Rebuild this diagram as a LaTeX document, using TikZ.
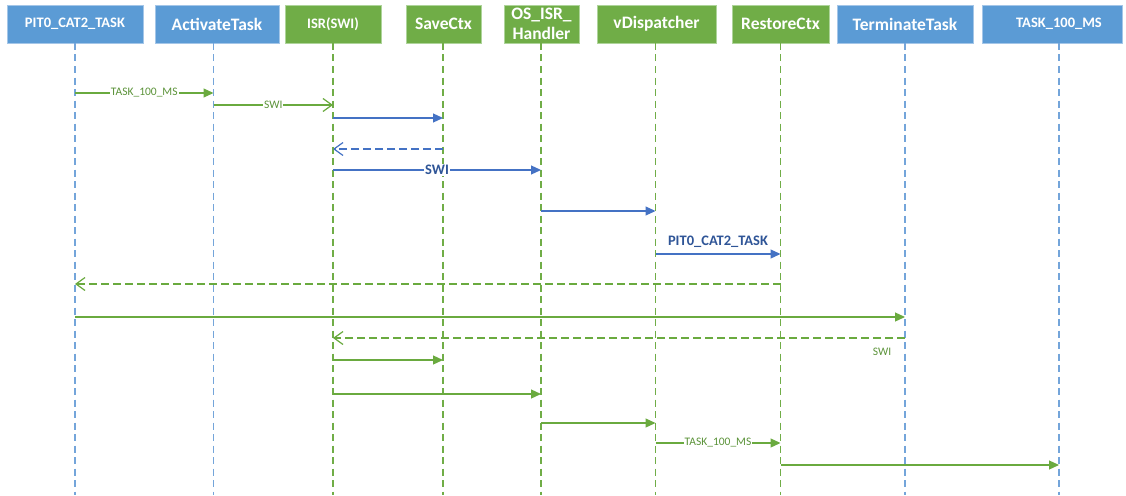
\documentclass[tikz,border=0pt]{standalone}
\usepackage{fontspec}
\setmainfont{Carlito}
\usetikzlibrary{arrows.meta}
\definecolor{boxblue}{HTML}{5B9BD5}
\definecolor{boxblueedge}{HTML}{A4C6E8}
\definecolor{boxgreen}{HTML}{70AD47}
\definecolor{boxgreenedge}{HTML}{AED49A}
\definecolor{lineblue}{HTML}{74A5DA}
\definecolor{linegreen}{HTML}{70AD47}
\definecolor{msgblue}{HTML}{4472C4}
\definecolor{msggreen}{HTML}{6AAA3F}
\definecolor{txtblue}{HTML}{2F5597}
\definecolor{txtgreen}{HTML}{5B9339}

\begin{document}
\begin{tikzpicture}[x=1pt,y=-1pt,
  hdr/.style={rectangle, minimum height=38pt, inner sep=0pt, text=white,
    font=\bfseries\fontsize{17.5}{20}\selectfont, line width=0.8pt, align=center},
  hdrblue/.style={hdr, fill=boxblue, draw=boxblueedge},
  hdrgreen/.style={hdr, fill=boxgreen, draw=boxgreenedge},
  smallhdr/.style={font=\bfseries\fontsize{14.5}{17}\selectfont},
  lifeblue/.style={draw=lineblue, line width=1.2pt, dash pattern=on 7pt off 4.5pt},
  lifegreen/.style={draw=linegreen, line width=1.2pt, dash pattern=on 7pt off 4.5pt},
  msg/.style={line width=1.2pt},
  bl/.style={draw=msgblue},
  gr/.style={draw=msggreen},
  sync/.style={msg, -{Triangle[length=10pt,width=9pt]}},
  openmsg/.style={msg, -{Straight Barb[length=9pt,width=13pt]}},
  retmsg/.style={openmsg, dash pattern=on 8pt off 4pt},
  lbl/.style={fill=white, inner sep=1pt, text=txtgreen, font=\fontsize{11.5}{13}\selectfont},
  lblb/.style={fill=white, inner sep=1pt, text=txtblue, font=\bfseries\fontsize{14.5}{17}\selectfont}
]
\useasboundingbox (0,0) rectangle (1126,495);

% participant headers
\node[hdrblue, smallhdr, minimum width=136pt] (b1) at (75,24) {PIT0\_CAT2\_TASK};
\node[hdrblue, minimum width=124pt] (b2) at (217,24) {ActivateTask};
\node[hdrgreen, smallhdr, minimum width=96pt] (b3) at (333,24) {ISR(SWI)};
\node[hdrgreen, minimum width=75pt] (b4) at (443.5,24) {SaveCtx};
\node[hdrgreen, minimum width=75pt] (b5) at (541.5,24) {OS\_ISR\_\\Handler};
\node[hdrgreen, minimum width=119pt] (b6) at (656.5,24) {vDispatcher};
\node[hdrgreen, minimum width=97pt] (b7) at (780.5,24) {RestoreCtx};
\node[hdrblue, minimum width=136pt] (b8) at (905,24) {TerminateTask};
\node[hdrblue, minimum width=140pt] (b9) at (1052,24) {};
\node[smallhdr, text=white, inner sep=0pt] (t9) at (1059,24) {TASK\_100\_MS};

% lifeline anchors
\coordinate (L1) at (75,43);
\coordinate (L2) at (213.5,43);
\coordinate (L3) at (333,43);
\coordinate (L4) at (443,43);
\coordinate (L5) at (541,43);
\coordinate (L6) at (655.5,43);
\coordinate (L7) at (780.5,43);
\coordinate (L8) at (905,43);
\coordinate (L9) at (1059,43);

% lifelines
\foreach \l in {L1,L2,L8,L9} \draw[lifeblue] (\l) -- (\l |- 0,495);
\foreach \l in {L3,L4,L5,L6,L7} \draw[lifegreen] (\l) -- (\l |- 0,495);

% messages
\draw[sync, gr] (L1|-0,93) -- node[lbl] {TASK\_100\_MS} (L2|-0,93);
\draw[openmsg, gr] (L2|-0,105) -- node[lbl] {SWI} (L3|-0,105);
\draw[sync, bl] (L3|-0,118) -- (L4|-0,118);
\draw[retmsg, bl] (L4|-0,149) -- (L3|-0,149);
\draw[sync, bl] (L3|-0,170) -- node[lblb] {SWI} (L5|-0,170);
\draw[sync, bl] (L5|-0,211) -- (L6|-0,211);
\draw[sync, bl] (L6|-0,254) -- node[lblb, fill=none, yshift=12pt] {PIT0\_CAT2\_TASK} (L7|-0,254);
\draw[retmsg, gr] (L7|-0,284) -- (L1|-0,284);
\draw[sync, gr] (L1|-0,317) -- (L8|-0,317);
\draw[retmsg, gr] (L8|-0,338) -- node[pos=0, lbl, fill=none, xshift=-23pt, yshift=-14pt] {SWI} (L3|-0,338);
\draw[sync, gr] (L3|-0,360) -- (L4|-0,360);
\draw[sync, gr] (L3|-0,394) -- (L5|-0,394);
\draw[sync, gr] (L5|-0,423) -- (L6|-0,423);
\draw[sync, gr] (L6|-0,443) -- node[lbl] {TASK\_100\_MS} (L7|-0,443);
\draw[sync, gr] (L7|-0,465) -- (L9|-0,465);
\end{tikzpicture}
\end{document}
